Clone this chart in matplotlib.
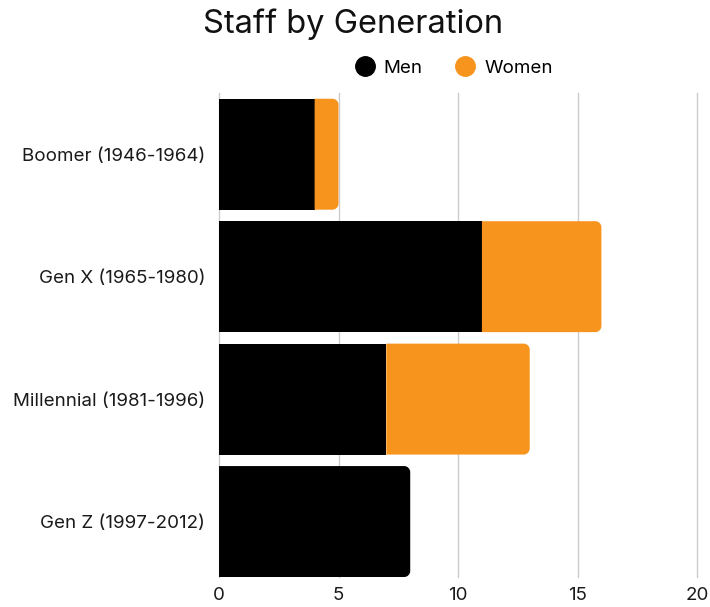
import matplotlib.pyplot as plt
from matplotlib.path import Path
from matplotlib.patches import PathPatch
from matplotlib.lines import Line2D

plt.rcParams['font.family'] = ['Inter', 'DejaVu Sans']

generations = ['Boomer (1946-1964)', 'Gen X (1965-1980)',
               'Millennial (1981-1996)', 'Gen Z (1997-2012)']
men = [4, 11, 7, 8]
women = [1, 5, 6, 0]

MEN_COLOR = '#000000'
WOMEN_COLOR = '#f7941d'


def rounded_right(x0, x1, yc, h, rx, ry):
    # rectangle with rounded right corners, built in data coords
    y0, y1 = yc - h / 2, yc + h / 2
    k = 0.5523
    verts = [
        (x0, y0), (x1 - rx, y0),
        (x1 - rx + k * rx, y0), (x1, y0 + ry - k * ry), (x1, y0 + ry),
        (x1, y1 - ry),
        (x1, y1 - ry + k * ry), (x1 - rx + k * rx, y1), (x1 - rx, y1),
        (x0, y1), (x0, y0),
    ]
    codes = [Path.MOVETO, Path.LINETO,
             Path.CURVE4, Path.CURVE4, Path.CURVE4,
             Path.LINETO,
             Path.CURVE4, Path.CURVE4, Path.CURVE4,
             Path.LINETO, Path.CLOSEPOLY]
    return Path(verts, codes)


fig = plt.figure(figsize=(7.1, 6.07), dpi=100)
ax = fig.add_axes([0.3085, 1 - 577 / 607, 0.6732, 484 / 607])

h = 0.906
rx, ry = 0.25, 0.05
for i, g in enumerate(generations):
    m, w = men[i], women[i]
    if w > 0:
        ax.barh(i, m, height=h, color=MEN_COLOR, zorder=3)
        p = rounded_right(m, m + w, i, h, rx, ry)
        ax.add_patch(PathPatch(p, facecolor=WOMEN_COLOR, edgecolor='none', zorder=3))
    else:
        p = rounded_right(0, m, i, h, rx, ry)
        ax.add_patch(PathPatch(p, facecolor=MEN_COLOR, edgecolor='none', zorder=3))

ax.set_xlim(0, 20)
ax.set_ylim(3 + h / 2, -0.5)
ax.set_yticks(range(len(generations)))
ax.set_yticklabels(generations, fontsize=13.5, color='#1a1a1a')
ax.set_xticks([0, 5, 10, 15, 20])
ax.tick_params(axis='x', labelsize=13.5, colors='#1a1a1a', length=0, pad=7)
ax.tick_params(axis='y', length=0, pad=10)
ax.grid(axis='x', color='#cccccc', linewidth=1, zorder=0)
for gl in ax.get_xgridlines():
    gl.set_clip_on(False)
for s in ax.spines.values():
    s.set_visible(False)

fig.text(0.497, 0.96, 'Staff by Generation', ha='center', va='center',
         fontsize=23.5, color='#111111')

handles = [Line2D([], [], marker='o', linestyle='none', markersize=14,
                  markerfacecolor=c, markeredgecolor=c) for c in (MEN_COLOR, WOMEN_COLOR)]
fig.legend(handles, ['Men', 'Women'], loc='center', bbox_to_anchor=(0.638, 0.888),
           ncol=2, frameon=False, fontsize=13.5, handletextpad=0.4,
           columnspacing=1.7, handlelength=1.2)

fig.savefig('out.png', dpi=100)
